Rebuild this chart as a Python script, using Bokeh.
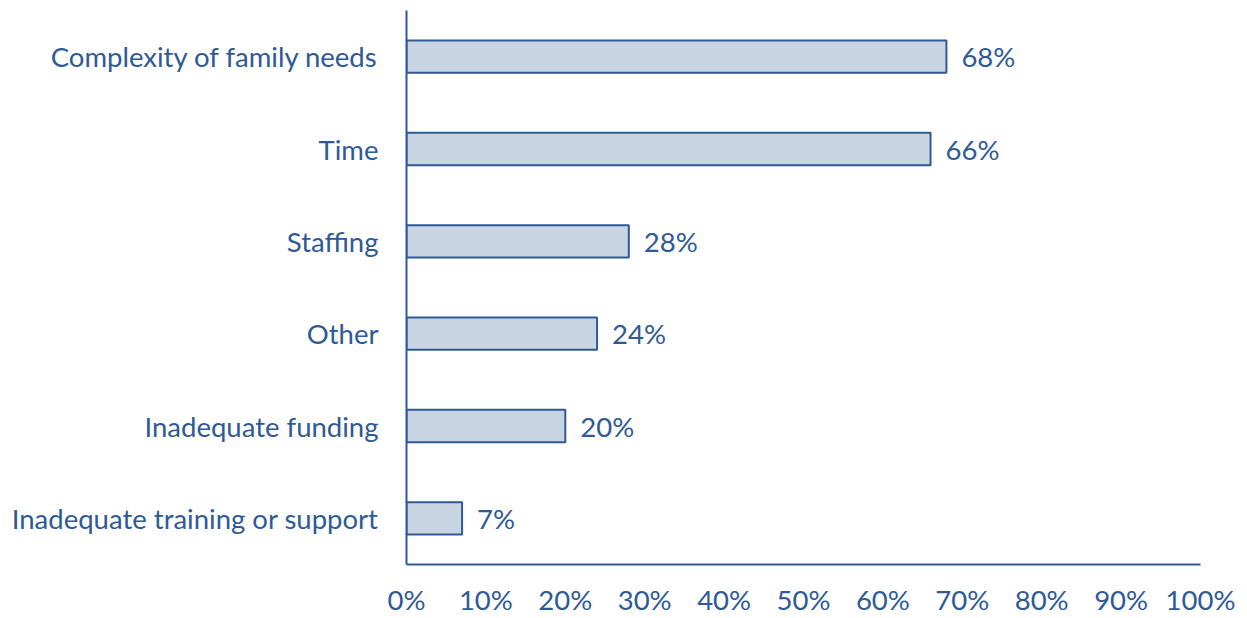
from bokeh.plotting import figure
from bokeh.models import FactorRange, NumeralTickFormatter, FixedTicker, ColumnDataSource, Range1d
from bokeh.core.properties import value
from bokeh.embed import file_html
from bokeh.resources import INLINE

categories = ["Complexity of family needs", "Time", "Staffing", "Other",
              "Inadequate funding", "Inadequate training or support"]
values = [0.68, 0.66, 0.28, 0.24, 0.20, 0.07]
value_labels = ["68%", "66%", "28%", "24%", "20%", "7%"]
x_ticks = [0, 0.1, 0.2, 0.3, 0.4, 0.5, 0.6, 0.7, 0.8, 0.9, 1.0]

TEXT = "#2E5A97"
FONT = "Lato"
FS = "27.5px"

src = ColumnDataSource(dict(cat=categories, val=values, lab=value_labels))

p = figure(width=1247, height=618, output_backend="svg", toolbar_location=None,
           y_range=FactorRange(factors=list(reversed(categories)), range_padding=0),
           x_range=Range1d(0, 1),
           min_border_left=406, min_border_right=47, min_border_top=10, min_border_bottom=52)

p.hbar(y="cat", right="val", left=0, height=0.35, source=src,
       fill_color="#C9D5E3", line_color="#2F5A94", line_width=2)
p.text(x="val", y="cat", text="lab", source=src, x_offset=15,
       text_baseline="middle", text_align="left",
       text_font=value(FONT), text_font_size=FS, text_color=TEXT)

p.outline_line_color = None
p.grid.grid_line_color = None
p.background_fill_color = "white"

p.xaxis.ticker = FixedTicker(ticks=x_ticks)
p.xaxis.formatter = NumeralTickFormatter(format="0%")
for ax in (p.xaxis, p.yaxis):
    ax.axis_line_color = "#2F5A94"
    ax.axis_line_width = 2
    ax.major_tick_line_color = None
    ax.minor_tick_line_color = None
    ax.major_tick_out = 0
    ax.minor_tick_out = 0
    ax.major_label_text_color = TEXT
    ax.major_label_text_font = FONT
    ax.major_label_text_font_size = FS
p.xaxis.major_label_standoff = 18
p.yaxis.major_label_standoff = 28

open("out.html", "w").write(file_html(p, INLINE))
